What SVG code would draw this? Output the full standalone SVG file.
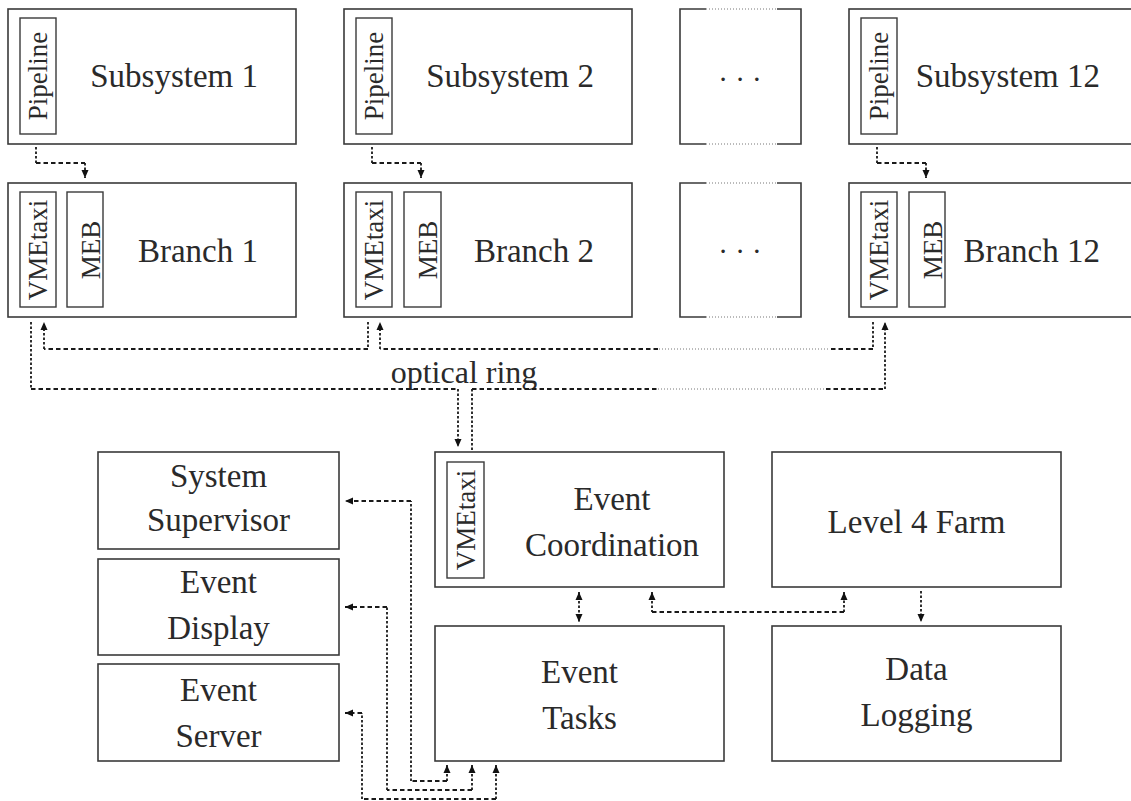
<svg xmlns="http://www.w3.org/2000/svg" width="1131" height="801" viewBox="0 0 1131 801">
  <style>
    .box { fill: #fff; stroke: #3a3a3a; stroke-width: 1.6; }
    .edge { fill: none; stroke: #3a3a3a; stroke-width: 1.6; }
    .inner { fill: #fff; stroke: #3a3a3a; stroke-width: 1.4; }
    .lbl { font-family: "Liberation Serif", "Times New Roman", serif; font-size: 33px; fill: #2a2a2a; }
    .mid { text-anchor: middle; }
    .end { text-anchor: end; }
    .vlbl { font-family: "Liberation Serif", "Times New Roman", serif; font-size: 27px; fill: #2a2a2a; text-anchor: middle; }
    .h { stroke: #1a1a1a; stroke-width: 1.8; stroke-dasharray: 4.5 3; fill: none; }
    .v { stroke: #1a1a1a; stroke-width: 1.8; stroke-dasharray: 2.5 2; fill: none; }
    .fine { stroke: #777; stroke-width: 1; stroke-dasharray: 1 2; fill: none; }
  </style>
  <defs>
    <marker id="ah" viewBox="0 0 8 8" refX="8" refY="4" markerWidth="8" markerHeight="8" markerUnits="userSpaceOnUse" orient="auto-start-reverse">
      <path d="M0,0.5 L8,4 L0,7.5 Z" fill="#111"/>
    </marker>
  </defs>

  <rect width="1131" height="801" fill="#fff"/>

  <!-- subsystem row -->
  <g id="subsystem-1">
    <rect class="box" x="8" y="9" width="288" height="135"/>
    <rect class="inner" x="20" y="18" width="36" height="116"/>
    <text class="vlbl" transform="translate(47,76) rotate(-90)">Pipeline</text>
    <text class="lbl end" x="258" y="87">Subsystem 1</text>
  </g>
  <g id="subsystem-2">
    <rect class="box" x="344" y="9" width="288" height="135"/>
    <rect class="inner" x="356" y="18" width="36" height="116"/>
    <text class="vlbl" transform="translate(383,76) rotate(-90)">Pipeline</text>
    <text class="lbl end" x="594" y="87">Subsystem 2</text>
  </g>
  <g id="subsystem-more">
    <path class="edge" d="M706,9 H680 V144 H706 M777,9 H801 V144 H777"/>
    <line class="fine" x1="706" y1="9" x2="777" y2="9"/>
    <line class="fine" x1="706" y1="144" x2="777" y2="144"/>
    <text class="lbl mid" x="740" y="89" style="font-size:29px">· · ·</text>
  </g>
  <g id="subsystem-12">
    <rect class="box" x="849" y="9" width="288" height="135"/>
    <rect class="inner" x="861" y="18" width="36" height="116"/>
    <text class="vlbl" transform="translate(888,76) rotate(-90)">Pipeline</text>
    <text class="lbl end" x="1100" y="87">Subsystem 12</text>
  </g>

  <!-- branch row -->
  <g id="branch-1">
    <rect class="box" x="8" y="183" width="288" height="134"/>
    <rect class="inner" x="20" y="192" width="36" height="115"/>
    <text class="vlbl" transform="translate(47,250) rotate(-90)">VMEtaxi</text>
    <rect class="inner" x="67" y="192" width="36" height="115"/>
    <text class="vlbl" transform="translate(100,250) rotate(-90)">MEB</text>
    <text class="lbl end" x="258" y="262">Branch 1</text>
  </g>
  <g id="branch-2">
    <rect class="box" x="344" y="183" width="288" height="134"/>
    <rect class="inner" x="356" y="192" width="36" height="115"/>
    <text class="vlbl" transform="translate(383,250) rotate(-90)">VMEtaxi</text>
    <rect class="inner" x="404" y="192" width="37" height="115"/>
    <text class="vlbl" transform="translate(437,250) rotate(-90)">MEB</text>
    <text class="lbl end" x="594" y="262">Branch 2</text>
  </g>
  <g id="branch-more">
    <path class="edge" d="M706,183 H680 V317 H706 M777,183 H801 V317 H777"/>
    <line class="fine" x1="706" y1="183" x2="777" y2="183"/>
    <line class="fine" x1="706" y1="317" x2="777" y2="317"/>
    <text class="lbl mid" x="740" y="261" style="font-size:29px">· · ·</text>
  </g>
  <g id="branch-12">
    <rect class="box" x="849" y="183" width="288" height="134"/>
    <rect class="inner" x="861" y="192" width="36" height="115"/>
    <text class="vlbl" transform="translate(888,250) rotate(-90)">VMEtaxi</text>
    <rect class="inner" x="909" y="192" width="36" height="115"/>
    <text class="vlbl" transform="translate(942,250) rotate(-90)">MEB</text>
    <text class="lbl end" x="1100" y="262">Branch 12</text>
  </g>

  <!-- lower section -->
  <g id="system-supervisor">
    <rect class="box" x="98" y="452" width="241" height="97"/>
    <text class="lbl mid" x="218.5" y="487">System</text>
    <text class="lbl mid" x="218.5" y="531">Supervisor</text>
  </g>
  <g id="event-display">
    <rect class="box" x="98" y="559" width="241" height="96"/>
    <text class="lbl mid" x="218.5" y="593">Event</text>
    <text class="lbl mid" x="218.5" y="639">Display</text>
  </g>
  <g id="event-server">
    <rect class="box" x="98" y="664" width="241" height="97"/>
    <text class="lbl mid" x="218.5" y="701">Event</text>
    <text class="lbl mid" x="218.5" y="747">Server</text>
  </g>
  <g id="event-coordination">
    <rect class="box" x="435" y="452" width="289" height="135"/>
    <rect class="inner" x="447" y="462" width="37" height="116"/>
    <text class="vlbl" transform="translate(475,520) rotate(-90)">VMEtaxi</text>
    <text class="lbl mid" x="612" y="510">Event</text>
    <text class="lbl mid" x="612" y="556">Coordination</text>
  </g>
  <g id="level-4-farm">
    <rect class="box" x="772" y="452" width="289" height="135"/>
    <text class="lbl mid" x="916.5" y="533">Level 4 Farm</text>
  </g>
  <g id="event-tasks">
    <rect class="box" x="435" y="626" width="289" height="135"/>
    <text class="lbl mid" x="579.5" y="683">Event</text>
    <text class="lbl mid" x="579.5" y="729">Tasks</text>
  </g>
  <g id="data-logging">
    <rect class="box" x="772" y="626" width="289" height="135"/>
    <text class="lbl mid" x="916.5" y="680">Data</text>
    <text class="lbl mid" x="916.5" y="726">Logging</text>
  </g>

  <text id="ring-label" class="lbl mid" x="464" y="383" style="font-size:32px">optical ring</text>

  <g id="connectors">
    <!-- pipeline to branch -->
    <line class="v" x1="36" y1="147" x2="36" y2="163"/>
    <line class="h" x1="36" y1="163" x2="85" y2="163"/>
    <line class="v" x1="85" y1="163" x2="85" y2="178" marker-end="url(#ah)"/>
    <line class="v" x1="372" y1="147" x2="372" y2="163"/>
    <line class="h" x1="372" y1="163" x2="421" y2="163"/>
    <line class="v" x1="421" y1="163" x2="421" y2="178" marker-end="url(#ah)"/>
    <line class="v" x1="877" y1="147" x2="877" y2="163"/>
    <line class="h" x1="877" y1="163" x2="926" y2="163"/>
    <line class="v" x1="926" y1="163" x2="926" y2="178" marker-end="url(#ah)"/>

    <!-- optical ring: branch 1 to event coordination -->
    <line class="v" x1="31" y1="322" x2="31" y2="389"/>
    <line class="h" x1="31" y1="389" x2="458" y2="389"/>
    <line class="v" x1="458" y1="389" x2="458" y2="447" marker-end="url(#ah)"/>
    <!-- event coordination to branch 12 -->
    <line class="v" x1="472" y1="450" x2="472" y2="389"/>
    <line class="h" x1="472" y1="389" x2="658" y2="389"/>
    <line class="fine" x1="658" y1="389" x2="826" y2="389"/>
    <line class="h" x1="826" y1="389" x2="885" y2="389"/>
    <line class="v" x1="885" y1="389" x2="885" y2="322" marker-end="url(#ah)"/>
    <!-- branch 12 to branch 2 -->
    <line class="v" x1="873" y1="322" x2="873" y2="349"/>
    <line class="h" x1="873" y1="349" x2="828" y2="349"/>
    <line class="fine" x1="828" y1="349" x2="658" y2="349"/>
    <line class="h" x1="658" y1="349" x2="380" y2="349"/>
    <line class="v" x1="380" y1="349" x2="380" y2="322" marker-end="url(#ah)"/>
    <!-- branch 2 to branch 1 -->
    <line class="v" x1="368" y1="322" x2="368" y2="349"/>
    <line class="h" x1="368" y1="349" x2="44" y2="349"/>
    <line class="v" x1="44" y1="349" x2="44" y2="322" marker-end="url(#ah)"/>

    <!-- event coordination <-> event tasks -->
    <line class="v" x1="579" y1="592" x2="579" y2="622" marker-start="url(#ah)" marker-end="url(#ah)"/>
    <!-- event coordination <-> level 4 farm -->
    <line class="v" x1="652" y1="592" x2="652" y2="612" marker-start="url(#ah)"/>
    <line class="h" x1="652" y1="612" x2="844" y2="612"/>
    <line class="v" x1="844" y1="612" x2="844" y2="592" marker-end="url(#ah)"/>
    <!-- level 4 farm to data logging -->
    <line class="v" x1="921" y1="591" x2="921" y2="622" marker-end="url(#ah)"/>

    <!-- event tasks <-> system supervisor -->
    <line class="v" x1="447" y1="765" x2="447" y2="781" marker-start="url(#ah)"/>
    <line class="h" x1="447" y1="781" x2="411" y2="781"/>
    <line class="v" x1="411" y1="781" x2="411" y2="501"/>
    <line class="h" x1="411" y1="501" x2="345" y2="501" marker-end="url(#ah)"/>
    <!-- event tasks <-> event display -->
    <line class="v" x1="472" y1="765" x2="472" y2="790" marker-start="url(#ah)"/>
    <line class="h" x1="472" y1="790" x2="387" y2="790"/>
    <line class="v" x1="387" y1="790" x2="387" y2="607"/>
    <line class="h" x1="387" y1="607" x2="345" y2="607" marker-end="url(#ah)"/>
    <!-- event tasks <-> event server -->
    <line class="v" x1="496" y1="765" x2="496" y2="799" marker-start="url(#ah)"/>
    <line class="h" x1="496" y1="799" x2="362" y2="799"/>
    <line class="v" x1="362" y1="799" x2="362" y2="713"/>
    <line class="h" x1="362" y1="713" x2="345" y2="713" marker-end="url(#ah)"/>
  </g>
</svg>
